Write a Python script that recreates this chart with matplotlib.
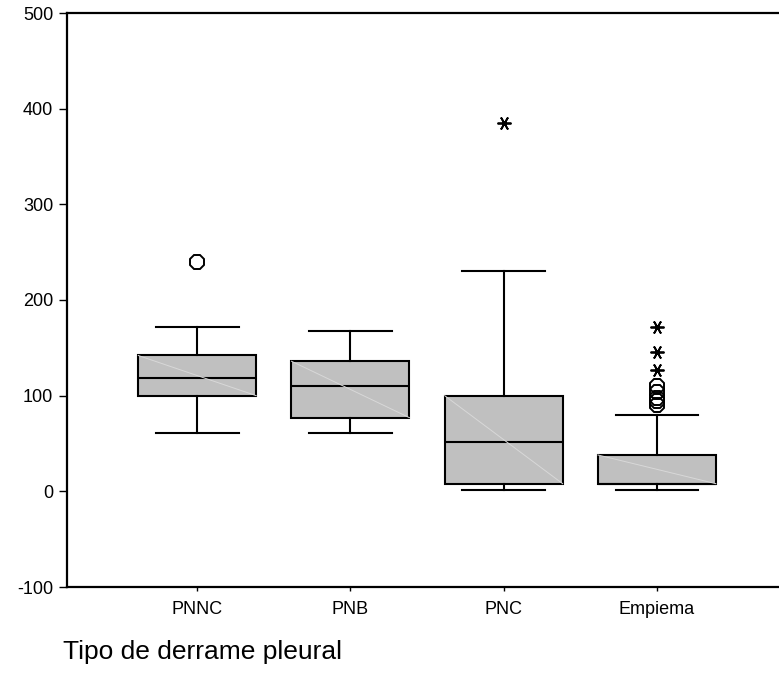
import matplotlib
matplotlib.use("Agg")
import matplotlib.pyplot as plt

plt.rcParams['font.family'] = ['Liberation Sans', 'DejaVu Sans']

categories = ["PNNC", "PNB", "PNC", "Empiema"]
whisker_low = [61, 61, 1, 1]
q1 = [100, 77, 8, 8]
medians = [118, 110, 52, 8]
q3 = [142, 136, 100, 38]
whisker_high = [172, 168, 230, 80]
outliers = [[240], [], [], [90, 94, 98, 104, 110]]
extremes = [[], [], [385], [127, 146, 172]]

yticks = [-100, 0, 100, 200, 300, 400, 500]
xlabel = "Tipo de derrame pleural"

fig = plt.figure(figsize=(7.79, 6.9), dpi=100)
ax = fig.add_axes([67/779, (690-587)/690, 1 - 67/779, (587-13)/690])

stats = []
for i, c in enumerate(categories):
    stats.append(dict(label=c, whislo=whisker_low[i], q1=q1[i], med=medians[i],
                      q3=q3[i], whishi=whisker_high[i], fliers=[]))

pos = list(range(1, len(categories) + 1))
bw = 0.77
lw = 1.5
ax.bxp(stats, positions=pos, widths=bw, patch_artist=True, showfliers=False,
       boxprops=dict(facecolor='#c0c0c0', edgecolor='black', linewidth=lw),
       medianprops=dict(color='black', linewidth=lw),
       whiskerprops=dict(color='black', linewidth=lw),
       capprops=dict(color='black', linewidth=lw),
       capwidths=0.54)

# faint diagonal shading line inside boxes
for i, p in enumerate(pos):
    ax.plot([p - bw/2, p + bw/2], [q3[i], q1[i]], color='#d8d8d8', lw=0.7, zorder=2.5)

for i, p in enumerate(pos):
    if outliers[i]:
        ax.plot([p]*len(outliers[i]), outliers[i], linestyle='none', marker='8',
                markersize=11.5, markerfacecolor='none', markeredgecolor='black',
                markeredgewidth=1.4, zorder=4)
    if extremes[i]:
        ax.plot([p]*len(extremes[i]), extremes[i], linestyle='none', marker=(6, 2, 90),
                markersize=10, color='black', markeredgewidth=1.3, zorder=4)

ax.set_xlim(0.15, 4.797)
ax.set_ylim(-100, 500)
ax.set_yticks(yticks)
ax.set_yticklabels([str(v) for v in yticks], fontsize=13)
ax.set_xticks(pos)
ax.set_xticklabels(categories, fontsize=13)
ax.tick_params(axis='y', direction='out', length=6, width=1, pad=4)
ax.tick_params(axis='x', direction='out', length=3, width=1, pad=7)
for s in ['left', 'bottom', 'top']:
    ax.spines[s].set_linewidth(1.6)
ax.spines['right'].set_visible(False)

fig.text(63/779, 1 - 652/690, xlabel, fontsize=19, va='center', ha='left')

fig.savefig("out.png", dpi=100)
